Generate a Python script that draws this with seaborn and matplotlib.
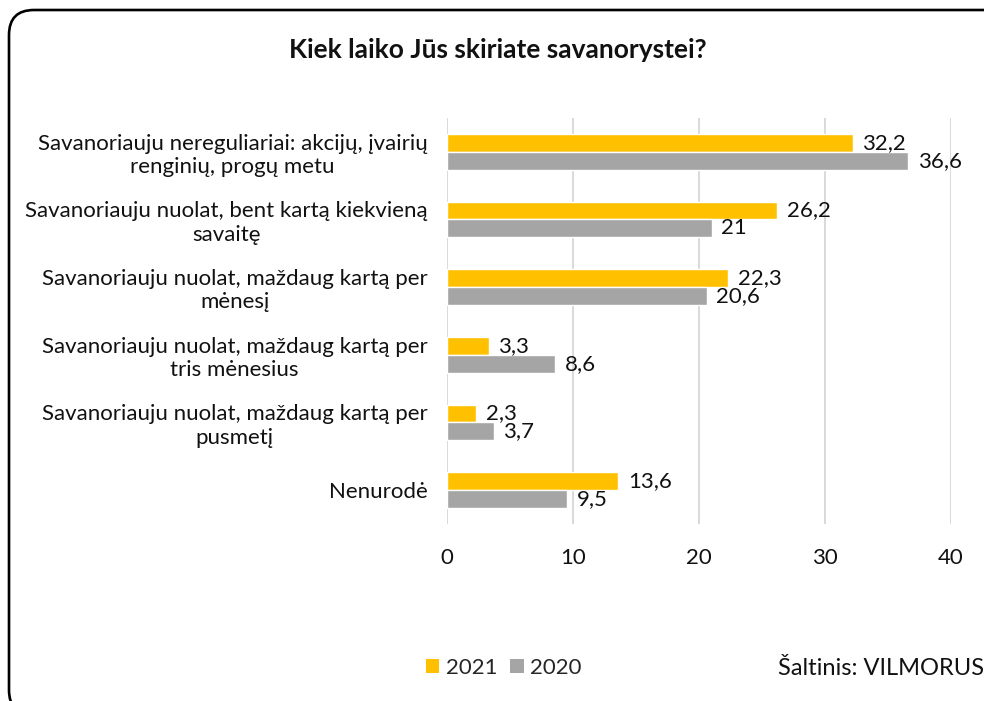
import numpy as np
import pandas as pd
import seaborn as sns
import matplotlib.pyplot as plt
from matplotlib.patches import FancyBboxPatch, Patch

# data
categories = [
    "Savanoriauju nereguliariai: akcijų, įvairių\nrenginių, progų metu",
    "Savanoriauju nuolat, bent kartą kiekvieną\nsavaitę",
    "Savanoriauju nuolat, maždaug kartą per\nmėnesį",
    "Savanoriauju nuolat, maždaug kartą per\ntris mėnesius",
    "Savanoriauju nuolat, maždaug kartą per\npusmetį",
    "Nenurodė",
]
vals_2021 = [32.2, 26.2, 22.3, 3.3, 2.3, 13.6]
vals_2020 = [36.6, 21, 20.6, 8.6, 3.7, 9.5]
years = ["2021", "2020"]
colors = ["#FFC000", "#A5A5A5"]
x_ticks = [0, 10, 20, 30, 40]

df = pd.DataFrame({
    "kat": categories * 2,
    "metai": ["2021"] * len(categories) + ["2020"] * len(categories),
    "reiksme": vals_2021 + vals_2020,
})

sns.set_style("white")
plt.rcParams['font.family'] = ['Lato', 'DejaVu Sans']

fig = plt.figure(figsize=(9.84, 7.01), dpi=100)
ax = fig.add_axes([0.4543, 0.2525, 0.5122, 0.5792])

sns.barplot(data=df, x="reiksme", y="kat", hue="metai", hue_order=years,
            palette=colors, orient="h", width=0.53, errorbar=None,
            legend=False, saturation=1, ax=ax)

for cont in ax.containers:
    ax.bar_label(cont, labels=[f"{v:g}".replace(".", ",") for v in cont.datavalues],
                 padding=7, fontsize=16, color="#111111")

ax.set_xlim(0, 40)
ax.set_xticks(x_ticks)
ax.set_xlabel("")
ax.set_ylabel("")
ax.xaxis.grid(True, color="#d9d9d9", lw=1.4)
ax.set_axisbelow(True)
for s in ax.spines.values():
    s.set_visible(False)
ax.tick_params(axis="x", length=0, pad=17, labelsize=16, labelcolor="#111111")
ax.tick_params(axis="y", length=0, pad=14, labelsize=16, labelcolor="#111111")
for lbl in ax.get_yticklabels():
    lbl.set_multialignment("center")

fig.text(0.506, 0.928, "Kiek laiko Jūs skiriate savanorystei?", ha="center", va="center",
         fontsize=19, fontweight="bold", color="#111111")

handles = [Patch(facecolor=c, edgecolor="none") for c in colors]
fig.legend(handles, years, loc="center", bbox_to_anchor=(0.512, 0.047), ncol=2,
           frameon=False, fontsize=16, handlelength=0.6, handleheight=0.6,
           handletextpad=0.3, columnspacing=0.6)

fig.text(0.7907, 0.047, "Šaltinis: VILMORUS", ha="left", va="center",
         fontsize=17, color="#111111")

# rounded frame, right and bottom edges run off the picture
border = FancyBboxPatch((0.09, -0.14), 10.0, 7.05, boxstyle="round,pad=0,rounding_size=0.25",
                        transform=fig.dpi_scale_trans, fill=False, edgecolor="black", lw=1.9)
fig.patches.append(border)

fig.savefig("out.png", dpi=100)
